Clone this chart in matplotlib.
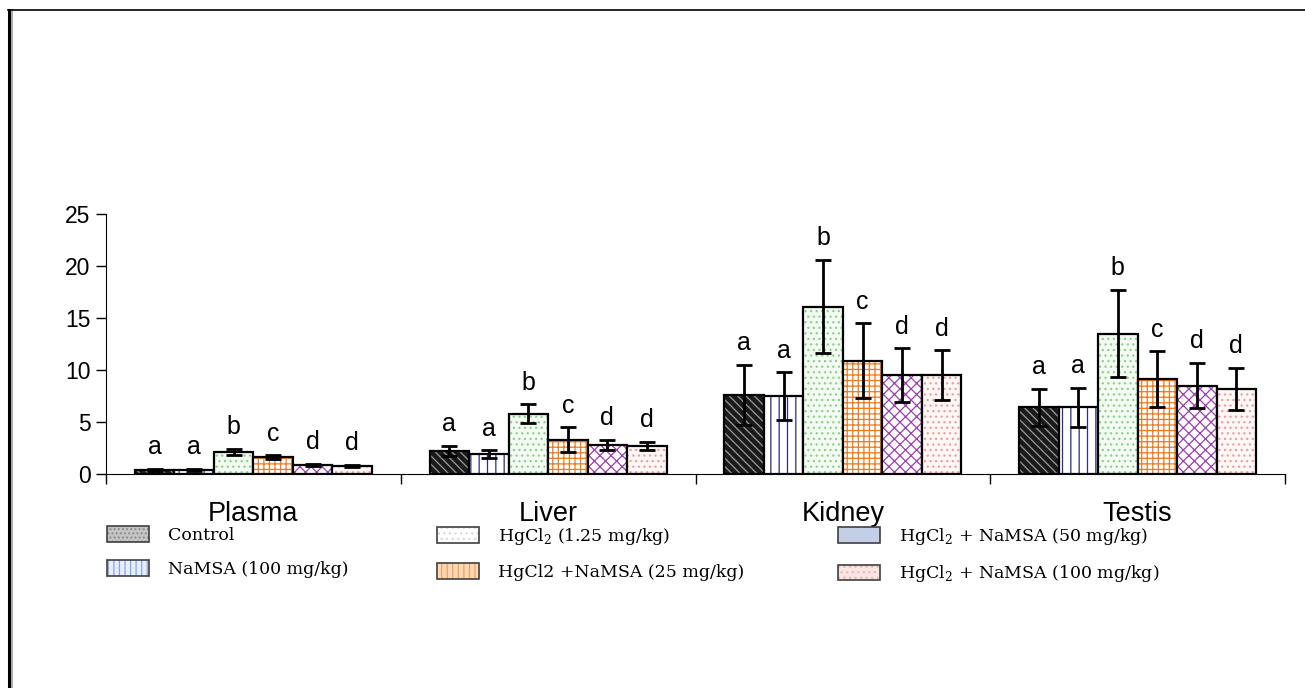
import matplotlib

matplotlib.use("Agg")
import matplotlib.pyplot as plt
import numpy as np
from matplotlib.lines import Line2D
from matplotlib.patches import Patch

plt.rcParams["font.family"] = ["Liberation Sans", "DejaVu Sans"]
plt.rcParams["mathtext.fontset"] = "custom"
plt.rcParams["mathtext.rm"] = "DejaVu Serif"
plt.rcParams["hatch.linewidth"] = 0.9

GROUPS = ["Plasma", "Liver", "Kidney", "Testis"]

control = [0.4, 2.2, 7.6, 6.4]
namsa = [0.4, 1.9, 7.5, 6.4]
hgcl2 = [2.1, 5.8, 16.1, 13.5]
hg_namsa25 = [1.6, 3.3, 10.9, 9.1]
hg_namsa50 = [0.9, 2.8, 9.5, 8.5]
hg_namsa100 = [0.8, 2.7, 9.5, 8.2]

control_err = [0.1, 0.5, 2.9, 1.8]
namsa_err = [0.1, 0.4, 2.3, 1.9]
hgcl2_err = [0.3, 0.9, 4.5, 4.2]
hg_namsa25_err = [0.2, 1.2, 3.6, 2.7]
hg_namsa50_err = [0.1, 0.5, 2.6, 2.2]
hg_namsa100_err = [0.1, 0.4, 2.4, 2.0]

LETTERS = ["a", "a", "b", "c", "d", "d"]

LABELS = [
    "Control",
    "NaMSA (100 mg/kg)",
    r"HgCl$_\mathregular{2}$ (1.25 mg/kg)",
    "HgCl2 +NaMSA (25 mg/kg)",
    r"HgCl$_\mathregular{2}$ + NaMSA (50 mg/kg)",
    r"HgCl$_\mathregular{2}$ + NaMSA (100 mg/kg)",
]

series = [control, namsa, hgcl2, hg_namsa25, hg_namsa50, hg_namsa100]
errors = [control_err, namsa_err, hgcl2_err, hg_namsa25_err, hg_namsa50_err, hg_namsa100_err]

# bar look: (face, hatch, hatch colour)
BAR_STYLE = [
    ("#1a1a1a", "\\\\\\\\", "#9a9a9a"),
    ("#ffffff", "||", "#2b2b90"),
    ("#f3fbf3", "...", "#8fd08f"),
    ("#ffffff", "+++", "#f07a1e"),
    ("#ffffff", "xxx", "#9a3fb0"),
    ("#fff6f6", "...", "#eba0a0"),
]

# legend look (differs from the bars in the original)
LEG_STYLE = [
    ("#c4c4c4", "....", "#8a8a8a"),
    ("#e6eeff", "|||", "#8aa6dc"),
    ("#ffffff", "...", "#d8d8d8"),
    ("#ffd9b5", "|||", "#f0a060"),
    ("#c2cfe6", "", "#c2cfe6"),
    ("#fbe4e4", "...", "#e8b8b8"),
]

fig = plt.figure(figsize=(13.05, 6.88), dpi=100)
ax = fig.add_axes([106 / 1305, 1 - 474 / 688, 1179 / 1305, 260 / 688])

x = np.arange(len(GROUPS))
width = 0.134
offsets = (np.arange(6) - 2.5) * width

for i, (vals, errs) in enumerate(zip(series, errors)):
    face, hatch, hcol = BAR_STYLE[i]
    pos = x + offsets[i]
    ax.bar(pos, vals, width, color=face, hatch=hatch, edgecolor=hcol, linewidth=0)
    ax.bar(pos, vals, width, fill=False, edgecolor="black", linewidth=1.6)
    ax.errorbar(pos, vals, yerr=errs, fmt="none", ecolor="black",
                elinewidth=2, capsize=6, capthick=2)
    for xp, v, e in zip(pos, vals, errs):
        ax.text(xp, v + e + 1.4, LETTERS[i], ha="center", va="baseline", fontsize=18)

ax.set_xlim(-0.5, 3.5)
ax.set_ylim(0, 25)
ax.set_yticks(range(0, 26, 5))
ax.tick_params(axis="y", labelsize=16.5, length=7, width=1, direction="out", pad=4)
ax.set_xticks(np.arange(-0.5, 4, 1))
ax.set_xticklabels([])
ax.tick_params(axis="x", length=7, width=1, direction="out")
ax.spines["top"].set_visible(False)
ax.spines["right"].set_visible(False)

for xi, name in zip(x, GROUPS):
    ax.annotate(name, xy=(xi, 0), xycoords=("data", "axes fraction"),
                xytext=(0, -29), textcoords="offset points",
                ha="center", va="center", fontsize=19.5)

# legend: three separate columns
handles = []
for face, hatch, hcol in LEG_STYLE:
    fill = Patch(facecolor=face, hatch=hatch, edgecolor=hcol, linewidth=0)
    edge = Patch(fill=False, edgecolor="#404040", linewidth=1.2)
    handles.append((fill, edge))

col_x = [107 / 1305, 437 / 1305, 838 / 1305]
for c in range(3):
    fig.legend(handles[2 * c:2 * c + 2], LABELS[2 * c:2 * c + 2],
               loc="upper left", bbox_to_anchor=(col_x[c], 1 - 526 / 688),
               frameon=False, borderpad=0, borderaxespad=0,
               handlelength=2.4, handleheight=1.0, handletextpad=1.1,
               labelspacing=0.95, prop={"family": "DejaVu Serif", "size": 12.5})

# page border from the scanned figure
fig.add_artist(Line2D([9 / 1305, 9 / 1305], [0, 1 - 10 / 688], color="black",
                      linewidth=2.2, transform=fig.transFigure))
fig.add_artist(Line2D([11.5 / 1305, 11.5 / 1305], [0, 1 - 10 / 688], color="#9a9a9a",
                      linewidth=1.2, transform=fig.transFigure))
fig.add_artist(Line2D([8 / 1305, 1], [1 - 10 / 688, 1 - 10 / 688], color="black",
                      linewidth=1.2, transform=fig.transFigure))

fig.savefig("out.png", dpi=100)
